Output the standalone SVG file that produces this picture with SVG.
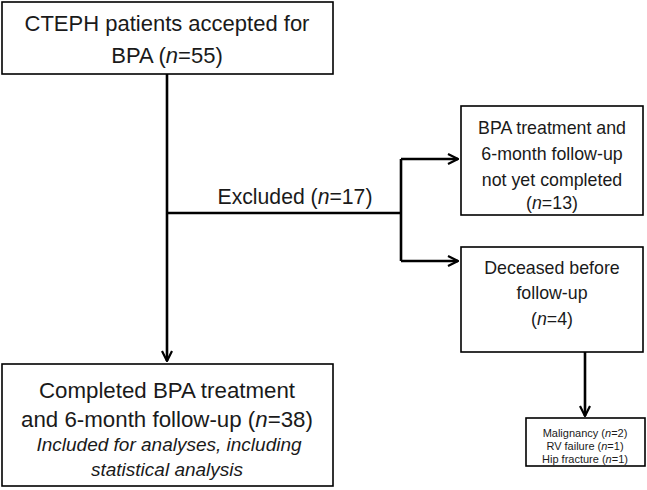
<svg xmlns="http://www.w3.org/2000/svg" width="647" height="490" viewBox="0 0 647 490">
<defs>
<marker id="arr" viewBox="0 0 12 12" refX="11" refY="6" markerWidth="12" markerHeight="12" markerUnits="userSpaceOnUse" orient="auto">
<path d="M1,1 L11,6 L1,11" fill="none" stroke="#000" stroke-width="2.2"/>
</marker>
<style>
.box{fill:#fff;stroke:#000;stroke-width:1.6}
.t{font-family:"Liberation Sans",Arial,sans-serif;fill:#1a1a1a;text-anchor:middle}
.c{fill:none;stroke:#000;stroke-width:2.6}
</style>
</defs>
<rect width="647" height="490" fill="#fff"/>
<g id="connectors">
<path class="c" d="M167,74 V361" marker-end="url(#arr)"/>
<path class="c" d="M167,213 H401"/>
<path class="c" d="M401,159 V261"/>
<path class="c" d="M401,159 H458" marker-end="url(#arr)"/>
<path class="c" d="M401,261 H458" marker-end="url(#arr)"/>
<path class="c" d="M585,352 V416" marker-end="url(#arr)"/>
<text class="t" x="295" y="204" font-size="21.2">Excluded (<tspan font-style="italic">n</tspan>=17)</text>
</g>
<g id="accepted">
<rect class="box" x="2" y="2" width="331" height="72"/>
<text class="t" x="167" y="31" font-size="22">CTEPH patients accepted for</text>
<text class="t" x="167" y="63" font-size="22">BPA (<tspan font-style="italic">n</tspan>=55)</text>
</g>
<g id="completed">
<rect class="box" x="2" y="364" width="331" height="122"/>
<text class="t" x="167" y="398" font-size="22.3">Completed BPA treatment</text>
<text class="t" x="167" y="427" font-size="22.3">and 6-month follow-up (<tspan font-style="italic">n</tspan>=38)</text>
<text class="t" x="169" y="451" font-size="19" font-style="italic">Included for analyses, including</text>
<text class="t" x="167" y="476" font-size="19" font-style="italic">statistical analysis</text>
</g>
<g id="notcompleted">
<rect class="box" x="461" y="106" width="182" height="109"/>
<text class="t" x="552" y="134" font-size="17.8">BPA treatment and</text>
<text class="t" x="552" y="160" font-size="17.8">6-month follow-up</text>
<text class="t" x="552" y="186" font-size="17.8">not yet completed</text>
<text class="t" x="552" y="209" font-size="17.8">(<tspan font-style="italic">n</tspan>=13)</text>
</g>
<g id="deceased">
<rect class="box" x="461" y="247" width="182" height="105"/>
<text class="t" x="552" y="274" font-size="17.8">Deceased before</text>
<text class="t" x="552" y="299" font-size="17.8">follow-up</text>
<text class="t" x="552" y="325" font-size="17.8">(<tspan font-style="italic">n</tspan>=4)</text>
</g>
<g id="causes">
<rect class="box" x="526" y="418" width="119" height="48"/>
<text class="t" x="585" y="437" font-size="11">Malignancy (<tspan font-style="italic">n</tspan>=2)</text>
<text class="t" x="585" y="450" font-size="11">RV failure (<tspan font-style="italic">n</tspan>=1)</text>
<text class="t" x="585" y="463" font-size="11">Hip fracture (<tspan font-style="italic">n</tspan>=1)</text>
</g>
</svg>
